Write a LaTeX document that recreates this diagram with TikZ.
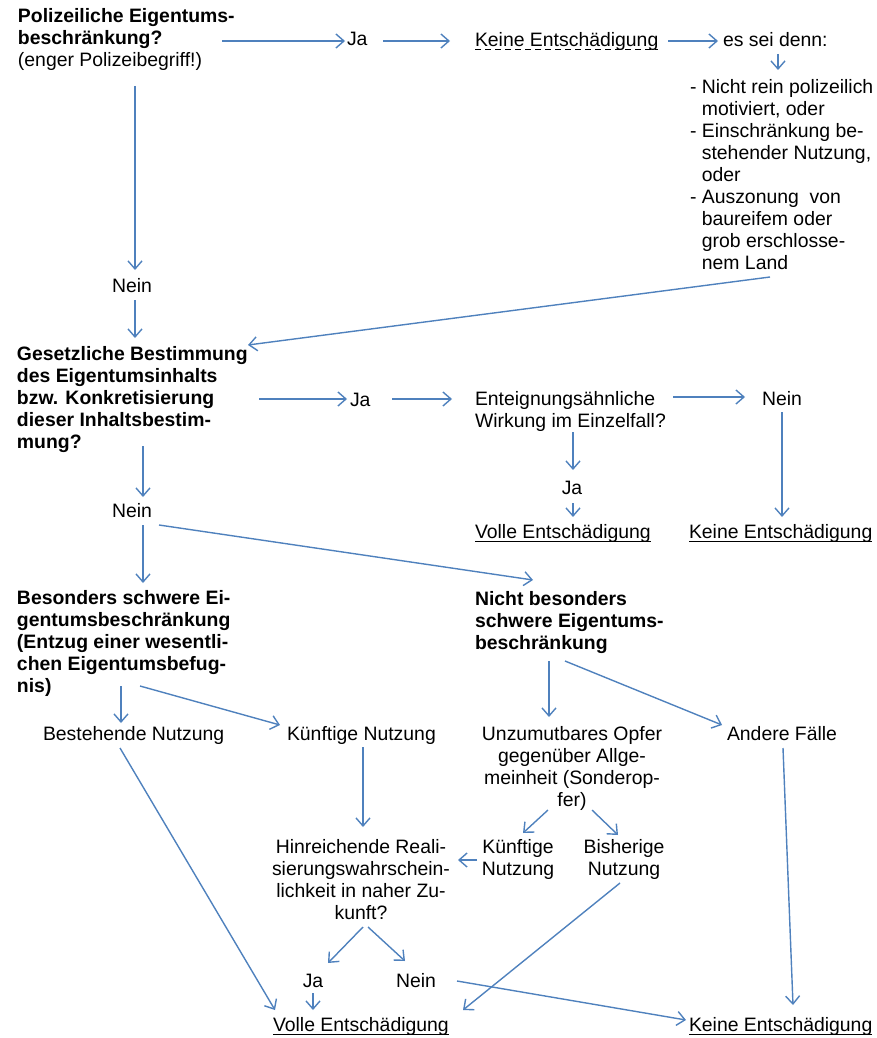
\documentclass[tikz,border=0pt]{standalone}
\usepackage{fontspec}
\setmainfont{Liberation Sans}
\usepackage{tikz}
\usetikzlibrary{arrows.meta,calc}
\definecolor{arrowblue}{RGB}{79,129,189}

\begin{document}
\begin{tikzpicture}[
		x=0.5pt, y=-0.5pt,
		every node/.style={inner sep=0pt, outer sep=0pt, align=left, font=\fontsize{9.7}{11}\selectfont},
		hd/.style={font=\fontsize{9.7}{11}\selectfont\bfseries},
		arr/.style={draw=arrowblue, line width=0.7pt, -{Straight Barb[length=4pt,width=7pt]}},
		uline/.style={line width=0.5pt}
	]
  \useasboundingbox (0,0) rectangle (877,1038);
  % first question (base = last line)
  \node (poli) [hd, anchor=base west] at (18,67) {Polizeiliche Eigentums-\\beschränkung?\\{\mdseries (enger Polizeibegriff!)}};
  \node (ja1) [anchor=base west] at (347,46) {Ja};
  \node (keine1) [anchor=base west] at (475,47) {Keine Entschädigung};
  \node (esd) [anchor=base west] at (723,47) {es sei denn:};
  \node (list) [anchor=base west] at (690,269) {- Nicht rein polizeilich\\\hphantom{-\ }motiviert, oder\\- Einschränkung be-\\\hphantom{-\ }stehender Nutzung,\\\hphantom{-\ }oder\\- Auszonung\ \ von\\\hphantom{-\ }baureifem oder\\\hphantom{-\ }grob erschlosse-\\\hphantom{-\ }nem Land};
  \node (nein1) [anchor=base] at (132,292) {Nein};
  % second question
  \node (gesetz) [hd, anchor=base west] at (17,448) {Gesetzliche Bestimmung\\des Eigentumsinhalts\\bzw. Konkretisierung\\dieser Inhaltsbestim-\\mung?};
  \node (ja2) [anchor=base west] at (350,406) {Ja};
  \node (ent) [anchor=base west] at (475,427) {Enteignungsähnliche\\Wirkung im Einzelfall?};
  \node (nein2) [anchor=base west] at (762,405) {Nein};
  \node (ja3) [anchor=base] at (572,494) {Ja};
  \node (volle1) [anchor=base west] at (475,538) {Volle Entschädigung};
  \node (keine2) [anchor=base west] at (689,538) {Keine Entschädigung};
  \node (nein3) [anchor=base] at (132,517) {Nein};
  % severity
  \node (bes) [hd, anchor=base west] at (17,692) {Besonders schwere Ei-\\gentumsbeschränkung\\(Entzug einer wesentli-\\chen Eigentumsbefug-\\nis)};
  \node (nbes) [hd, anchor=base west] at (475,649) {Nicht besonders\\schwere Eigentums-\\beschränkung};
  \node (best) [anchor=base west] at (43,740) {Bestehende Nutzung};
  \node (kuenf1) [anchor=base west] at (287,740) {Künftige Nutzung};
  \node (unzu) [anchor=base, align=center] at (572,806) {Unzumutbares Opfer\\gegenüber Allge-\\meinheit (Sonderop-\\fer)};
  \node (andere) [anchor=base west] at (727,740) {Andere Fälle};
  \node (hinr) [anchor=base, align=center] at (361,919) {Hinreichende Reali-\\sierungswahrschein-\\lichkeit in naher Zu-\\kunft?};
  \node (kuenf2) [anchor=base, align=center] at (518,875) {Künftige\\Nutzung};
  \node (bish) [anchor=base, align=center] at (624,875) {Bisherige\\Nutzung};
  \node (ja4) [anchor=base] at (313,987) {Ja};
  \node (nein4) [anchor=base] at (416,987) {Nein};
  \node (volle2) [anchor=base west] at (273,1031) {Volle Entschädigung};
  \node (keine3) [anchor=base west] at (689,1031) {Keine Entschädigung};

  % underlines
  \foreach \n in {volle1,keine2,volle2,keine3}
    \draw[uline] ([yshift=-1.5pt]\n.base west) -- ([yshift=-1.5pt]\n.base east);
  \draw[uline, dash pattern=on 3pt off 2pt] ([yshift=-1.5pt]keine1.base west) -- ([yshift=-1.5pt]keine1.base east);

  % arrows, top
  \draw[arr] ($(poli.base west)+(204,-26)$) -- ($(ja1.base west)+(-2,-5)$);
  \draw[arr] ($(ja1.base west)+(36,-5)$) -- ($(keine1.base west)+(-25,-6)$);
  \draw[arr] ($(keine1.base west)+(193,-6)$) -- ($(esd.base west)+(-5,-6)$);
  \draw[arr] ($(esd.base west)+(55,7)$) -- ($(list.base west)+(88,-199)$);
  \draw[arr] ($(list.base west)+(80,8)$) -- ($(gesetz.base west)+(231,-103)$);
  \draw[arr] ($(poli.base west)+(117,19)$) -- ($(nein1.base)+(3,-22)$);
  \draw[arr] ($(nein1.base)+(3,8)$) -- ($(gesetz.base west)+(118,-110)$);
  % arrows, middle
  \draw[arr] ($(gesetz.base west)+(242,-49)$) -- ($(ja2.base west)+(-3,-7)$);
  \draw[arr] ($(ja2.base west)+(42,-7)$) -- ($(ent.base west)+(-23,-28)$);
  \draw[arr] ($(ent.base west)+(198,-30)$) -- ($(nein2.base west)+(-17,-8)$);
  \draw[arr] ($(nein2.base west)+(20,7)$) -- ($(keine2.base west)+(93,-21)$);
  \draw[arr] ($(ent.base west)+(98,5)$) -- ($(ja3.base)+(1,-24)$);
  \draw[arr] ($(ja3.base)+(1,9)$) -- ($(volle1.base west)+(98,-21)$);
  \draw[arr] ($(gesetz.base west)+(126,-2)$) -- ($(nein3.base)+(11,-20)$);
  \draw[arr] ($(nein3.base)+(11,8)$) -- ($(bes.base west)+(126,-109)$);
  \draw[arr] ($(nein3.base)+(27,8)$) -- ($(nbes.base west)+(58,-69)$);
  % arrows, bottom
  \draw[arr] ($(bes.base west)+(104,-6)$) -- ($(best.base west)+(78,-17)$);
  \draw[arr] ($(bes.base west)+(123,-6)$) -- ($(kuenf1.base west)+(-7,-15)$);
  \draw[arr] ($(nbes.base west)+(74,12)$) -- ($(unzu.base)+(-23,-89)$);
  \draw[arr] ($(nbes.base west)+(90,12)$) -- ($(andere.base west)+(-5,-15)$);
  \draw[arr] ($(kuenf1.base west)+(76,7)$) -- ($(hinr.base)+(2,-92)$);
  \draw[arr] ($(unzu.base)+(-24,4)$) -- ($(kuenf2.base)+(5,-42)$);
  \draw[arr] ($(unzu.base)+(20,4)$) -- ($(bish.base)+(-6,-40)$);
  \draw[arr] ($(kuenf2.base)+(-41,-15)$) -- ($(hinr.base)+(97,-59)$);
  \draw[arr] ($(hinr.base)+(2,8)$) -- ($(ja4.base)+(15,-24)$);
  \draw[arr] ($(hinr.base)+(7,8)$) -- ($(nein4.base)+(-11,-26)$);
  \draw[arr] ($(ja4.base)+(0,6)$) -- ($(volle2.base west)+(40,-21)$);
  \draw[arr] ($(best.base west)+(77,8)$) -- ($(volle2.base west)+(2,-21)$);
  \draw[arr] ($(bish.base)+(-4,8)$) -- ($(volle2.base west)+(190,-21)$);
  \draw[arr] ($(nein4.base)+(41,-6)$) -- ($(keine3.base west)+(-3,-11)$);
  \draw[arr] ($(andere.base west)+(56,8)$) -- ($(keine3.base west)+(104,-26)$);
\end{tikzpicture}
\end{document}
